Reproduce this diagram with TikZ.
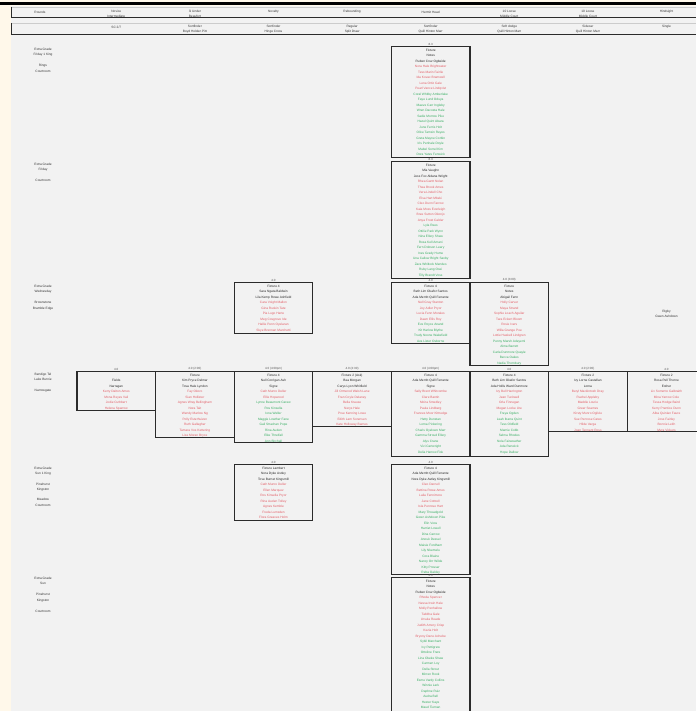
\documentclass[tikz,border=0pt]{standalone}
\usepackage{fontspec}
\setmainfont{Liberation Sans}
\usetikzlibrary{positioning}
\definecolor{pagecream}{HTML}{FFF8EA}
\definecolor{sheetgray}{HTML}{F2F2F2}
\definecolor{frameblack}{HTML}{2B2B2B}
\definecolor{lossred}{HTML}{E35D66}
\definecolor{wingreen}{HTML}{36AD62}
\definecolor{titlegray}{HTML}{555555}
\newcommand{\redl}[1]{\textcolor{lossred}{#1}}
\newcommand{\grnl}[1]{\textcolor{wingreen}{#1}}

\begin{document}
\begin{tikzpicture}[x=1pt,y=-1pt,
  card/.style={draw=frameblack,line width=1.3pt,minimum width=78.6pt,anchor=north,inner sep=0pt},
  cardtext/.style={anchor=north,align=center,font=\fontsize{3.2}{5.5}\selectfont,text=black!85,inner sep=0pt,yshift=-2.5pt},
  cardtitle/.style={anchor=south,font=\fontsize{3}{4}\selectfont,text=titlegray,inner sep=0.6pt},
  rowlabel/.style={anchor=north,align=center,font=\fontsize{3.2}{5.5}\selectfont,text=black!80,inner sep=0pt},
  head/.style={align=center,font=\fontsize{3.2}{4.4}\selectfont,text=black!80,inner sep=0pt}]
\useasboundingbox (0,0) rectangle (696,711);
% sheet
\fill[pagecream] (0,0) rectangle (696,711);
\fill[sheetgray] (11,6) rectangle (696,711);
\fill[black] (0,2.5) rectangle (696,5.5);

% header rows
\draw[black!20,line width=0.5pt] (11,7) -- (696,7);
\draw[frameblack,line width=1.3pt] (11.6,7) -- (11.6,17.6) -- (696,17.6);
\draw[black!20,line width=0.5pt] (11,23) -- (696,23);
\draw[frameblack,line width=1.3pt] (11.6,23) -- (11.6,34.4) -- (696,34.4);
\node[head] (h0) at (40,12) {Rounds};
\node[head] (h1) at (116.3,14) {Novice\\Intermediate};
\node[head] (h2) at (194.9,14) {3i Under\\Beaufort};
\node[head] (h3) at (273.5,12) {Novelty};
\node[head] (h4) at (352.1,12) {Rebounding};
\node[head] (h5) at (430.7,12) {Hermit Head};
\node[head] (h6) at (509.3,14) {10 Loose\\Middle Court};
\node[head] (h7) at (587.9,14) {10 Loose\\Middle Court};
\node[head] (h8) at (666.5,12) {Hindsight};
\node[head] (s1) at (116.3,27) {SC 2/7};
\node[head] (s2) at (194.9,29) {Sortfinder\\Boyd Holden Pitt};
\node[head] (s3) at (273.5,29) {Sortfinder\\Hinge Cross};
\node[head] (s4) at (352.1,29) {Regular\\Split Draw};
\node[head] (s5) at (430.7,29) {Sortfinder\\Quill Hinton Marr};
\node[head] (s6) at (509.3,29) {Soft dodge\\Quill Hinton Marr};
\node[head] (s7) at (587.9,29) {Sidecar\\Quill Hinton Marr};
\node[head] (s8) at (666.5,27) {Single};

% round labels
\node[rowlabel] (g1) at (43,47.5) {Extra Grade\\Friday 1 King\\[5.5pt]Rings\\Courtroom};
\node[rowlabel] (g2) at (43,162.5) {Extra Grade\\Friday\\[5.5pt]Courtroom};
\node[rowlabel] (g3) at (43,284.5) {Extra Grade\\Wednesday\\[5.5pt]Brownstone\\Bramble Edge};
\node[rowlabel] (g4) at (43,372.5) {Bendigo Tel\\Lake Burnie\\[5.5pt]Narrowgate};
\node[rowlabel] (g5) at (43,466.5) {Extra Grade\\Sun 1 King\\[5pt]Pinehurst\\Kingston\\[4.5pt]Meadow\\Courtroom};
\node[rowlabel] (g6) at (43,576.5) {Extra Grade\\Sun\\[5.5pt]Pinehurst\\Kingston\\[5.5pt]Courtroom};

% round 1
\node[card,minimum height=111pt] (r1c5) at (430.7,46) {};
\node[cardtitle] (r1c5h) at (r1c5.north) {8.3};
\node[cardtext] (r1c5t) at (r1c5.north) {Fixture\\Notes\\Ruben Cruz Ogbeide\\
  \redl{Nora Hale Brightwater}\\\redl{Tess Marin Fairlie}\\\redl{Ida Kovac Bramwell}\\\redl{Lena Ortiz Gale}\\\redl{Pearl Vance Lindqvist}\\
  \grnl{Coral Whitby Amberlake}\\\grnl{Faye Lund Oduya}\\\grnl{Maeve Carr Ingleby}\\\grnl{Wren Dacosta Hale}\\\grnl{Sadie Morrow Pike}\\\grnl{Hazel Quint Abara}\\
  \grnl{June Ferris Holt}\\\grnl{Olive Tamsin Reyes}\\\grnl{Greta Mayne Corbin}\\\grnl{Iris Penhale Doyle}\\\grnl{Mabel Sorrel Kim}\\\grnl{Dora Yates Fenwick}};

% round 2
\node[card,minimum height=117pt] (r2c5) at (430.7,161) {};
\node[cardtitle] (r2c5h) at (r2c5.north) {8.3};
\node[cardtext] (r2c5t) at (r2c5.north) {Fixture\\Mia Vaughn\\Jess Fox Aldana Wright\\
  \redl{Rhea Gantt Nolan}\\\redl{Thea Brook Ames}\\\redl{Vera Lindell Cho}\\\redl{Elsa Hart Mbeki}\\\redl{Cleo Dunn Farrow}\\\redl{Kaia Moss Everleigh}\\\redl{Bree Sutton Okonjo}\\\redl{Anya Frost Calder}\\
  \grnl{Lyla Rees}\\\grnl{Ottilie Park Wynn}\\\grnl{Nina Ellery Shaw}\\\grnl{Rosa Kell Amani}\\\grnl{Fern Dobson Leary}\\\grnl{Ines Grady Hume}\\
  \grnl{Una Callow Bright Saxby}\\\grnl{Zara Whitlock Mendes}\\\grnl{Ruby Lang Osei}\\\grnl{Tilly Brandt Voss}};

% round 3
\node[card,minimum height=51pt] (r3c3) at (273.5,282) {};
\node[cardtitle] (r3c3h) at (r3c3.north) {4.0};
\node[cardtext] (r3c3t) at (r3c3.north) {Fixture 4\\Sara Ngata Baldwin\\Lila Kemp Rowe Ashfield\\
  \redl{Cara Voight Mallon}\\\redl{Gina Ruskin Tate}\\\redl{Pia Lugo Harte}\\\redl{Meg Cosgrove Ide}\\\redl{Hallie Penn Oyelaran}\\\redl{Skye Brennan Marchetti}};
\node[card,minimum height=61pt] (r3c5) at (430.7,282) {};
\node[cardtitle] (r3c5h) at (r3c5.north) {4.0};
\node[cardtext] (r3c5t) at (r3c5.north) {Fixture 4\\Beth Lim Okafor Santos\\Ada Merritt Quill Ferrante\\
  \redl{Nell Gray Stanton}\\\redl{Joy Adler Pryor}\\\redl{Lucia Fenn Morales}\\\redl{Dawn Ellis Roy}\\
  \grnl{Eve Royce Anand}\\\grnl{Kit Harlow Blythe}\\\grnl{Trudy Noone Wakefield}\\\grnl{Ava Lister Osborne}};
\node[card,minimum height=83pt] (r3c6) at (509.3,282) {};
\node[cardtitle] (r3c6h) at (r3c6.north) {4.0 (3:00)};
\node[cardtext] (r3c6t) at (r3c6.north) {Fixture\\Notes\\Abigail Fenn\\
  \redl{Holly Carver}\\\redl{Maya Strand}\\\redl{Sophie Loach Aguilar}\\\redl{Tara Eckert Bloom}\\\redl{Rosie Ivers}\\\redl{Willa Grange Poe}\\\redl{Lottie Haskell Lindgren}\\
  \grnl{Penny Marsh Adeyemi}\\\grnl{Alma Barrett}\\\grnl{Carla Dunmore Quayle}\\\grnl{Becca Oakes}\\\grnl{Nadia Thornbury}};
\node[rowlabel] (r3rt) at (666.5,309.5) {Rigby\\Gwen Ashdown};

% round 4
\node[card,minimum height=39pt] (r4c1) at (116.3,371) {};
\node[cardtitle] (r4c1h) at (r4c1.north) {4.0};
\node[cardtext,yshift=-5.5pt] (r4c1t) at (r4c1.north) {Fields\\Narragan\\
  \redl{Kerry Dalton Ames}\\\redl{Mona Reyes Vail}\\\redl{Jodie Cuthbert}\\\redl{Helena Sparrow}};
\node[card,minimum height=66pt] (r4c2) at (194.9,371) {};
\node[cardtitle] (r4c2h) at (r4c2.north) {4.0 (2:00)};
\node[cardtext] (r4c2t) at (r4c2.north) {Fixture\\Kim Pryce Delmar\\Tova Hale Lyndon\\
  \redl{Fay Okoro}\\\redl{Sian Hollister}\\\redl{Agnes Wray Bellingham}\\\redl{Nora Tait}\\\redl{Wendy Marlow Ng}\\\redl{Polly Esterhuizen}\\\redl{Ruth Gallagher}\\\redl{Tamara Vos Kettering}\\\redl{Lise Moran Bryce}};
\node[card,minimum height=71pt] (r4c3) at (273.5,371) {};
\node[cardtitle] (r4c3h) at (r4c3.north) {4.0 (4:00pm)};
\node[cardtext] (r4c3t) at (r4c3.north) {Fixture 4\\Nell Corrigan Ash\\Signe\\
  \redl{Cath Munro Deller}\\\redl{Ellie Hopwood}\\
  \grnl{Lynne Beaumont Carew}\\\grnl{Ros Kinsella}\\\grnl{Iona Weller}\\\grnl{Maggie Lowther Fane}\\\grnl{Gail Strachan Pope}\\\grnl{Rina Auden}\\\grnl{Elke Threlfall}\\\grnl{Ann Birchall}};
\node[card,minimum height=55pt] (r4c4) at (352.1,371) {};
\node[cardtitle] (r4c4h) at (r4c4.north) {4.0 (2:30)};
\node[cardtext] (r4c4t) at (r4c4.north) {Fixture 2 (Ask)\\Bea Morgan\\Carys Lyon Whitfield\\
  \redl{Jill Ormerod Walsh Lane}\\\redl{Fran Coyle Delaney}\\\redl{Bella Krause}\\\redl{Nerys Hale}\\\redl{Prue Kenning Lowe}\\\redl{Edith Lam Sorensen}\\\redl{Kate Holloway Barnes}};
\node[card,minimum height=85pt] (r4c5) at (430.7,371) {};
\node[cardtitle] (r4c5h) at (r4c5.north) {4.0 (4:00pm)};
\node[cardtext] (r4c5t) at (r4c5.north) {Fixture 4\\Ada Merritt Quill Ferrante\\Signe\\
  \redl{Sally Brent Whitcombe}\\\redl{Clare Bantin}\\\redl{Moira Smedley}\\\redl{Paula Lindberg}\\\redl{Frances Moor Kittredge}\\
  \grnl{Hetty Dunstan}\\\grnl{Lorna Pickering}\\\grnl{Charis Oyelowo Marr}\\\grnl{Gemma Stroud Ellery}\\\grnl{Alys Crane}\\\grnl{Vivi Cartwright}\\\grnl{Delia Harrow Fisk}};
\node[card,minimum height=85pt] (r4c6) at (509.3,371) {};
\node[cardtitle] (r4c6h) at (r4c6.north) {4.0};
\node[cardtext] (r4c6t) at (r4c6.north) {Fixture 4\\Beth Lim Okafor Santos\\Ada Hollis Ward Dunmore\\
  \redl{Ivy Bell Harrington}\\\redl{Jean Tuckwell}\\\redl{Orla Finnegan}\\\redl{Megan Locke Ure}\\
  \grnl{Freya Ogden}\\\grnl{Leah Ibarra Quint}\\\grnl{Tess Oldfield}\\\grnl{Marnie Cobb}\\\grnl{Selma Rhodes}\\\grnl{Nola Fairweather}\\\grnl{Ada Renwick}\\\grnl{Hope Dallow}};
\node[card,minimum height=60pt] (r4c7) at (587.9,371) {};
\node[cardtitle] (r4c7h) at (r4c7.north) {4.0 (2:00)};
\node[cardtext] (r4c7t) at (r4c7.north) {Fixture 2\\Ivy Lorne Castellan\\Lorna\\
  \redl{Beryl Mackintosh Dray}\\\redl{Rachel Appleby}\\\redl{Maddie Lourie}\\\redl{Greer Soames}\\\redl{Kirsty Munro Ogilvie}\\\redl{Sue Penrose Cates}\\\redl{Hilde Varga}\\\redl{Joan Tennant Ross}};
\node[card,minimum height=60pt] (r4c8) at (666.5,371) {};
\node[cardtitle] (r4c8h) at (r4c8.north) {4.0};
\node[cardtext] (r4c8t) at (r4c8.north) {Fixture 2\\Rosa Pell Thorne\\Esther\\
  \redl{Liv Sorrento Galbraith}\\\redl{Mina Yarrow Cole}\\\redl{Tessa Hodge Baird}\\\redl{Kerry Prentice Dunn}\\\redl{Alba Quinlan Faure}\\\redl{Joss Fairley}\\\redl{Bonnie Leith}\\\redl{Myra Vickers}};

% round 5
\node[card,minimum height=56pt] (r5c3) at (273.5,464) {};
\node[cardtitle] (r5c3h) at (r5c3.north) {4.0};
\node[cardtext] (r5c3t) at (r5c3.north) {Fixture Lambert\\Nora Dyke Astley\\Tove Burnet Kingsmill\\
  \redl{Cath Munro Deller}\\\redl{Ellen Marquez}\\\redl{Ros Kinsella Pryor}\\\redl{Rina Auden Tolley}\\\redl{Agnes Kemble}\\\redl{Freda Lumsden}\\\redl{Flora Greaves Holm}};
\node[card,minimum height=110pt] (r5c5) at (430.7,464) {};
\node[cardtitle] (r5c5h) at (r5c5.north) {4.0};
\node[cardtext] (r5c5t) at (r5c5.north) {Fixture 4\\Ada Merritt Quill Ferrante\\Nora Dyke Astley Kingsmill\\
  \redl{Cleo Darnell}\\\redl{Bettina Rowe Ames}\\\redl{Laila Fennimore}\\\redl{Jane Cottrell}\\\redl{Isla Penrose Hart}\\
  \grnl{Mary Threadgold}\\\grnl{Gwen Ashdown Pike}\\\grnl{Elin Voss}\\\grnl{Harriet Lowell}\\\grnl{Dina Carrow}\\\grnl{Anouk Dessel}\\
  \grnl{Maisie Fordham}\\\grnl{Lily Nkemelu}\\\grnl{Cora Blaine}\\\grnl{Nancy Orr Wilde}\\\grnl{Kitty Prosser}\\\grnl{Reba Oakley}};

% round 6
\node[card,minimum height=150pt] (r6c5) at (430.7,577) {};
\node[cardtitle] (r6c5h) at (r6c5.north) {4.0};
\node[cardtext] (r6c5t) at (r6c5.north) {Fixture\\Notes\\Ruben Cruz Ogbeide\\
  \redl{Rhoda Spencer}\\\redl{Nessa Irwin Hale}\\\redl{Molly Penhallow}\\\redl{Tabitha Gale}\\\redl{Ursula Reade}\\\redl{Judith Amory Crisp}\\\redl{Kezia Holt}\\\redl{Bryony Dane Achebe}\\
  \grnl{Sybil Marchant}\\\grnl{Ivy Pettigrew}\\\grnl{Ottoline Frere}\\\grnl{Lina Okeke Shaw}\\\grnl{Carmen Loy}\\\grnl{Della Strout}\\\grnl{Mirren Rook}\\
  \grnl{Esme Vardy Collins}\\\grnl{Winnie Lark}\\\grnl{Daphne Ruiz}\\\grnl{Audra Bell}\\\grnl{Hester Kaye}\\\grnl{Maud Tiernan}};
\end{tikzpicture}
\end{document}
